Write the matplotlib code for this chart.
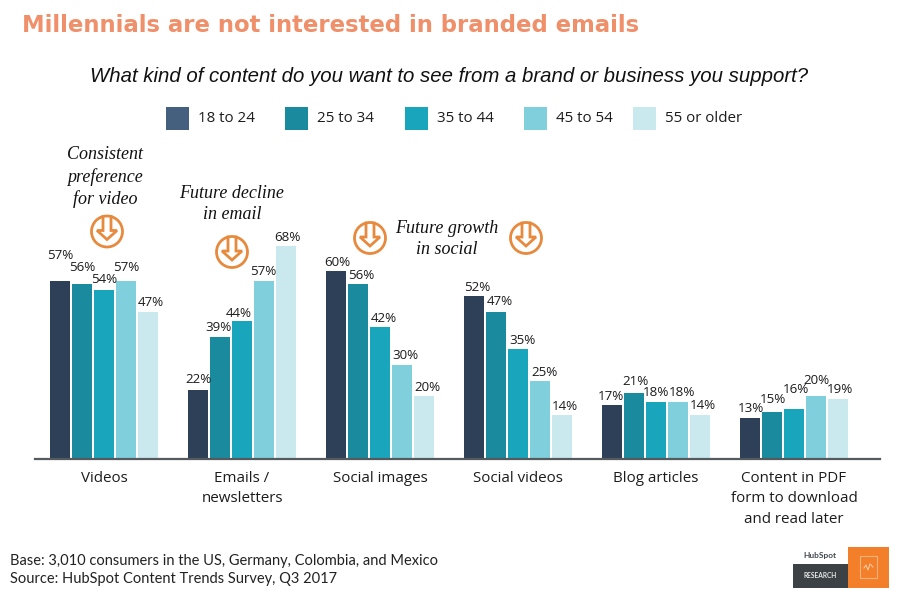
import matplotlib
matplotlib.use("Agg")
import matplotlib.pyplot as plt
from matplotlib.patches import Rectangle, Circle
import numpy as np

categories = ["Videos", "Emails /\nnewsletters", "Social images", "Social videos",
              "Blog articles", "Content in PDF\nform to download\nand read later"]
age_groups = ["18 to 24", "25 to 34", "35 to 44", "45 to 54", "55 or older"]
v_18_24 = [57, 22, 60, 52, 17, 13]
v_25_34 = [56, 39, 56, 47, 21, 15]
v_35_44 = [54, 44, 42, 35, 18, 16]
v_45_54 = [57, 57, 30, 25, 18, 20]
v_55_up = [47, 68, 20, 14, 14, 19]
series = [v_18_24, v_25_34, v_35_44, v_45_54, v_55_up]
colors = ["#2e4057", "#1a8a9f", "#19a6bd", "#7fd0dc", "#c9e9ee"]
legend_colors = ["#45607f", "#1a8a9f", "#19a6bd", "#7fd0dc", "#c9e9ee"]

W, H = 899, 598
SANS = "Open Sans"
fig = plt.figure(figsize=(W/100, H/100), dpi=100)

ov = fig.add_axes([0, 0, 1, 1], zorder=3)
ov.set_xlim(0, W); ov.set_ylim(H, 0); ov.axis("off"); ov.patch.set_alpha(0)

L, R, B, T = 35, 880, 458.5, 200
ax = fig.add_axes([L/W, 1-B/H, (R-L)/W, (B-T)/H], zorder=2)
ax.patch.set_alpha(0)
ax.set_ylim(0, (B-T)/3.12)
ax.set_xlim((0-(104-L)/138), (0-(104-L)/138)+(R-L)/138)
for s in ["top", "right", "left"]:
    ax.spines[s].set_visible(False)
ax.spines["bottom"].set_color("#555a5e"); ax.spines["bottom"].set_linewidth(1.6)
ax.set_yticks([])
x = np.arange(len(categories))
pitch, bw = 22/138, 20/138

lab_dx = [[0, 0, 1, 3, -1, 1], [0, -2, 3, 4, 1, 1], [0, -3, 4, 4, 0, 2], [0, -1, 3, 4, 4, 0], [3, 1, 3, 3, 3, 2]]
lab_up = [[25, 10, 9, 9, 9, 9], [16, 9, 8, 10, 11, 12], [11, 8, 9, 9, 10, 19], [13, 9, 9, 8, 10, 16], [9, 9, 9, 8, 9, 10]]
for i, (vals, c) in enumerate(zip(series, colors)):
    xs = x + (i-2)*pitch
    ax.bar(xs, vals, bw, color=c, zorder=2)
    for j, (xx, v) in enumerate(zip(xs, vals)):
        ax.annotate(f"{v}%", (xx, v), xytext=(lab_dx[i][j]*.72, lab_up[i][j]*.72), textcoords="offset points",
                    ha="center", va="center", fontsize=9.6, family=SANS, color="#1c1c1c", zorder=4)

ax.set_xticks(x)
ax.set_xticklabels(categories, fontsize=10.9, family=SANS, color="#1c1c1c", linespacing=1.48, va="top")
ax.tick_params(axis="x", length=0, pad=9)

ov.text(22, 26, "Millennials are not interested in branded emails", fontsize=16.4, weight="bold",
        family="DejaVu Sans", color="#f0906a", va="center", ha="left")
ov.text(449, 77, "What kind of content do you want to see from a brand or business you support?",
        fontsize=14.65, style="italic", family="Liberation Sans", color="#111111", va="center", ha="center")

lx = [166, 285, 405, 524, 633]
for px, lab, c in zip(lx, age_groups, legend_colors):
    ov.add_patch(Rectangle((px, 107), 23, 23, color=c, lw=0))
    ov.text(px+32, 119, lab, fontsize=10.9, family=SANS, color="#1c1c1c", va="center", ha="left")

serif = dict(family="Liberation Serif", style="italic", fontsize=13, color="#111111",
             ha="center", va="center", linespacing=1.36)
ov.text(105, 177, "Consistent\npreference\nfor video", **serif)
ov.text(232, 204, "Future decline\nin email", **serif)
ov.text(447, 239, "Future growth\nin social", **serif)

def icon(cx, cy, r=15.5):
    col = "#e88a3e"
    ov.add_patch(Circle((cx, cy), r, fill=False, ec=col, lw=2))
    ov.plot([cx-4, cx-4, cx-10, cx, cx+10, cx+4, cx+4],
            [cy-15, cy-1, cy-1, cy+8, cy-1, cy-1, cy-15], color=col, lw=2, solid_joinstyle="miter")
for c in [(107, 231.5), (232, 252), (370, 238), (526, 238)]:
    icon(*c)

ov.text(10, 561, "Base: 3,010 consumers in the US, Germany, Colombia, and Mexico", fontsize=10.5,
        family="Lato", color="#222222", va="center")
ov.text(10, 579, "Source: HubSpot Content Trends Survey, Q3 2017", fontsize=10.5,
        family="Lato", color="#222222", va="center")

ov.add_patch(Rectangle((793, 563.5), 55, 24.5, color="#3b4145", lw=0))
ov.add_patch(Rectangle((848, 547), 41, 41, color="#f47f2a", lw=0))
ov.add_patch(Rectangle((860, 556), 17, 22, fill=False, ec="#f9b27c", lw=0.8))
ov.plot([864, 866, 868, 870, 873], [568, 565, 570, 564, 567], color="#fbd0a8", lw=0.7)
ov.text(820.5, 576, "RESEARCH", fontsize=4.8, weight="bold", family="Lato", color="#e8e8e8", ha="center", va="center")
ov.text(820, 555.5, "HubSpot", fontsize=6, weight="bold", family="Lato", color="#444a50", ha="center", va="center")

fig.savefig("out.png", dpi=100, facecolor="white")
